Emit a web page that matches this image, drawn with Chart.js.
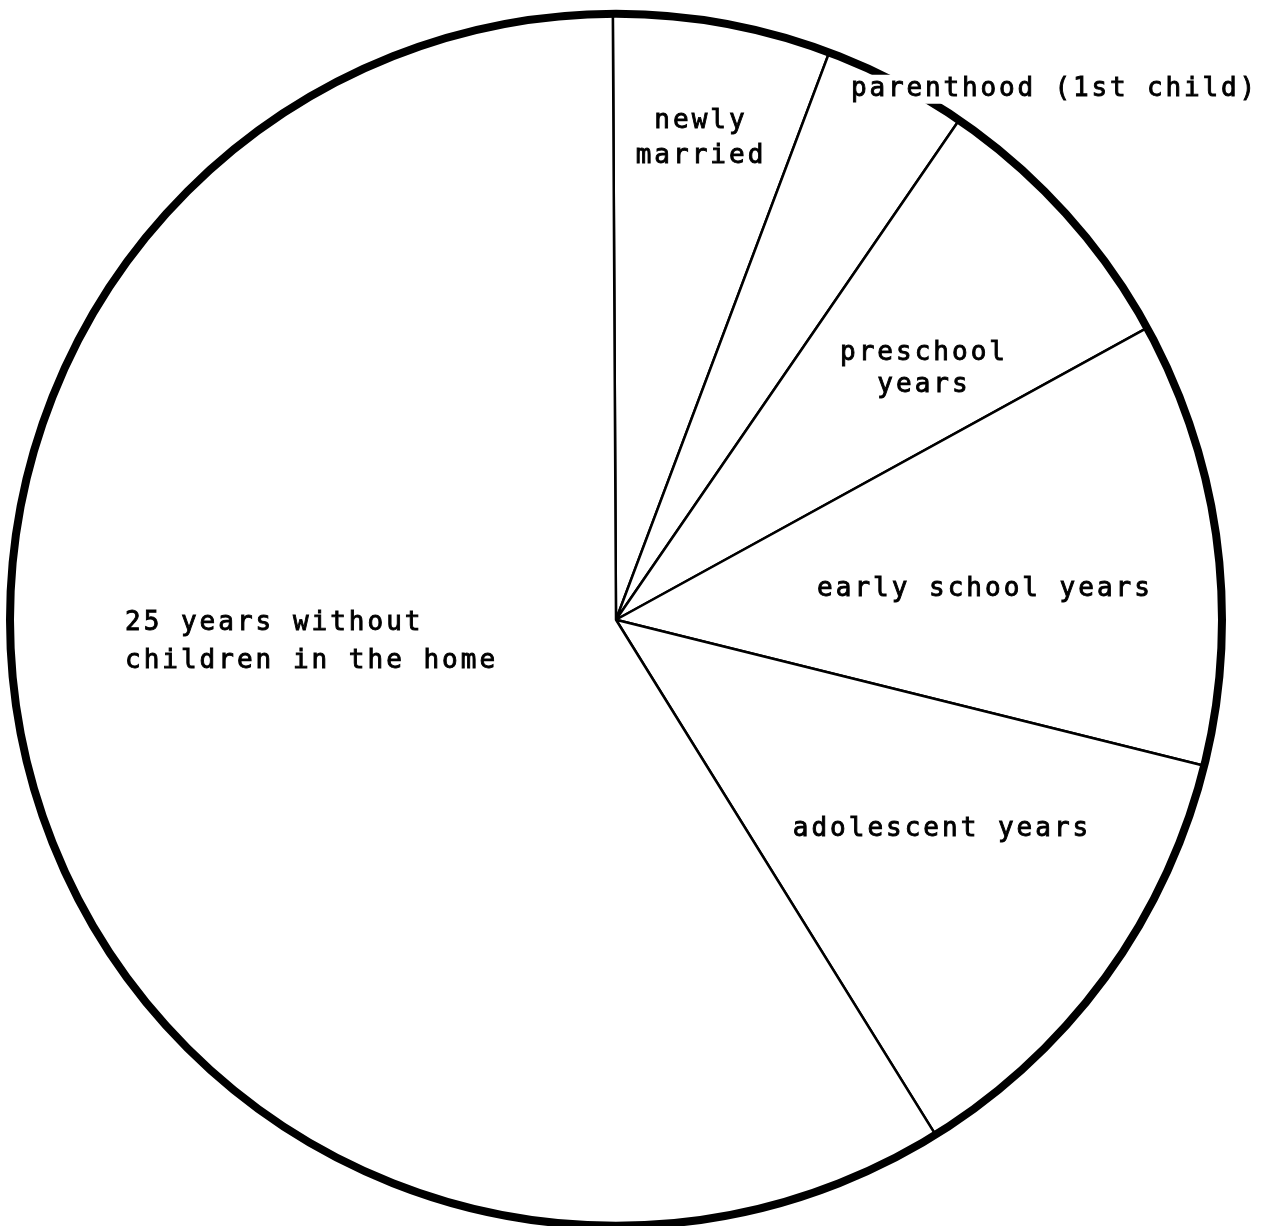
<!DOCTYPE html>
<html>
<head>
<meta charset="utf-8">
<script src="https://cdn.jsdelivr.net/npm/chart.js@4.4.1/dist/chart.umd.min.js"></script>
<style>
  html, body { margin: 0; padding: 0; background: #ffffff; }
  #wrap { width: 1264px; height: 1226px; position: relative; }
</style>
</head>
<body>
<div id="wrap"><canvas id="c" width="1264" height="1226"></canvas></div>
<script>
// Family life cycle stages (approximate years)
const stages = [
  'newly married',
  'parenthood (1st child)',
  'preschool years',
  'early school years',
  'adolescent years',
  '25 years without children in the home'
];
const years = [2.47, 1.64, 3.16, 5.05, 5.23, 25];

// Label text lines per stage
const labelLines = [
  ['newly', 'married'],
  ['parenthood (1st child)'],
  ['preschool', 'years'],
  ['early school years'],
  ['adolescent years'],
  ['25 years without', 'children in the home']
];

// Label layout (offsets from pie centre, in px) — styling, not data
const labelLayout = [
  { align: 'center', dx: 85,  dy: [-499, -464] },
  { align: 'left',   dx: 235, dy: [-531], knockout: true, spacing: 2.85 },
  { align: 'center', dx: 308, dy: [-267, -235] },
  { align: 'center', dx: 369, dy: [-31] },
  { align: 'center', dx: 326, dy: [209] },
  { align: 'left',   dx: -491, dy: [3, 41] }
];

const FONT = '26px "DejaVu Sans Mono"';

const outlineAndLabels = {
  id: 'outlineAndLabels',
  afterDatasetsDraw(chart) {
    const ctx = chart.ctx;
    const meta = chart.getDatasetMeta(0);
    const arc0 = meta.data[0];
    const cx = arc0.x, cy = arc0.y, r = arc0.outerRadius;
    ctx.save();
    // thick outer rim
    ctx.beginPath();
    ctx.arc(cx, cy, r, 0, Math.PI * 2);
    ctx.lineWidth = 8;
    ctx.strokeStyle = '#000';
    ctx.stroke();
    // labels
    ctx.font = FONT;
    ctx.textBaseline = 'middle';
    ctx.textAlign = 'left';
    labelLines.forEach((lines, i) => {
      const lay = labelLayout[i];
      ctx.letterSpacing = (lay.spacing || 3) + 'px';
      lines.forEach((txt, j) => {
        const y = cy + lay.dy[j];
        const x = cx + lay.dx;
        const w = ctx.measureText(txt).width;
        const left = lay.align === 'center' ? x - w / 2 : x;
        if (lay.knockout) {
          ctx.fillStyle = '#fff';
          ctx.fillRect(left - 4, y - 14, w + 8, 29);
        }
        ctx.fillStyle = '#000';
        ctx.strokeStyle = '#000';
        ctx.lineWidth = 0.9;
        ctx.fillText(txt, left, y);
        ctx.strokeText(txt, left, y);
      });
    });
    ctx.restore();
  }
};

new Chart(document.getElementById('c'), {
  type: 'pie',
  data: {
    labels: stages,
    datasets: [{
      data: years,
      backgroundColor: '#ffffff',
      borderColor: '#000000',
      borderWidth: 2.5,
      borderAlign: 'center',
      hoverOffset: 0
    }]
  },
  options: {
    responsive: false,
    animation: false,
    radius: 606,
    rotation: -0.3,
    layout: { padding: { left: 0, right: 32, top: 13.5, bottom: 0 } },
    plugins: {
      legend: { display: false },
      tooltip: { enabled: false }
    }
  },
  plugins: [outlineAndLabels]
});
</script>
</body>
</html>
